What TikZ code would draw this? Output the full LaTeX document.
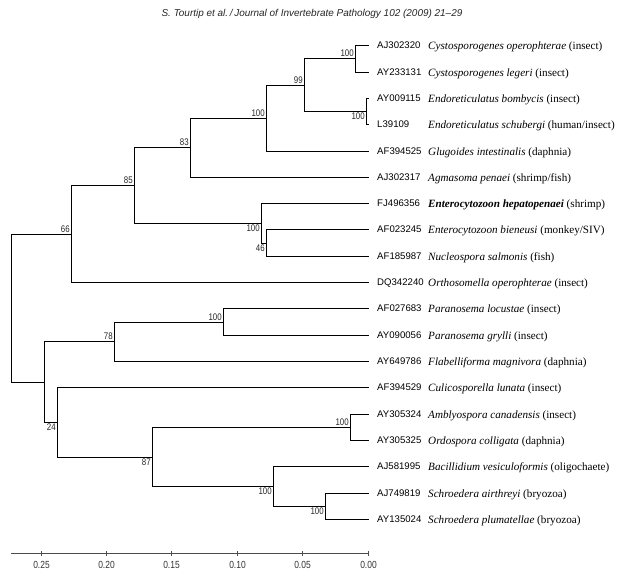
\documentclass[tikz,border=0pt]{standalone}
\usepackage{fontspec}
\usetikzlibrary{positioning}
\setmainfont{Liberation Serif}
\newfontfamily\idfont{Liberation Sans}
\newfontfamily\bsfont[FakeStretch=0.82]{Liberation Sans}

\begin{document}
\begin{tikzpicture}[x=0.03cm, y=-0.03cm]

    \tikzset{idstyle/.style={anchor=base west, inner sep=0pt, yshift=-2.8pt, font=\idfont\fontsize{8.2}{9}\selectfont},
             spstyle/.style={anchor=base west, inner sep=0pt, yshift=-3.0pt, font=\fontsize{9.5}{11}\selectfont},
             bsup/.style={anchor=south east, inner sep=1.3pt, font=\bsfont\fontsize{8.2}{9}\selectfont, text=black!85},
             bsdown/.style={anchor=north east, inner sep=1.3pt, font=\bsfont\fontsize{8.2}{9}\selectfont, text=black!85},
             ticklab/.style={font=\bsfont\fontsize{8.8}{10}\selectfont, text=black!80},
             branch/.style={line width=1.5pt}}

    \useasboundingbox (0,0) rectangle (640,573);

    \node[font=\idfont\itshape\fontsize{8.5}{10}\selectfont, text=black!85] (head) at (312,14)
        {S. Tourtip et al.\,/\,Journal of Invertebrate Pathology 102 (2009) 21\textendash29};

    % tips
    \coordinate (t1) at (369, 45.5);
    \coordinate (t2) at (369, 72.5);
    \coordinate (t3) at (369, 98.5);
    \coordinate (t4) at (369, 124.5);
    \coordinate (t5) at (369, 151.5);
    \coordinate (t6) at (369, 177.5);
    \coordinate (t7) at (369, 203.5);
    \coordinate (t8) at (369, 229.5);
    \coordinate (t9) at (369, 256.5);
    \coordinate (t10) at (369, 282.5);
    \coordinate (t11) at (369, 308.5);
    \coordinate (t12) at (369, 335.5);
    \coordinate (t13) at (369, 361.5);
    \coordinate (t14) at (369, 387.5);
    \coordinate (t15) at (369, 414.5);
    \coordinate (t16) at (369, 440.5);
    \coordinate (t17) at (369, 466.5);
    \coordinate (t18) at (369, 493.5);
    \coordinate (t19) at (369, 519.5);

    % inner nodes
    \coordinate (cyst) at (355.5, 58.5);
    \coordinate (endo) at (366.5, 111.5);
    \coordinate (cysend) at (304.5, 85.5);
    \coordinate (glu) at (266.5, 118.5);
    \coordinate (agm) at (190.5, 147.5);
    \coordinate (nucl) at (266.5, 243.5);
    \coordinate (ent) at (261.5, 223.5);
    \coordinate (mid) at (134.5, 185.5);
    \coordinate (upper) at (71.5, 234.5);
    \coordinate (para) at (223.5, 322.5);
    \coordinate (flab) at (114.5, 341.5);
    \coordinate (amb) at (350.5, 427.5);
    \coordinate (schr) at (325.5, 506.5);
    \coordinate (bac) at (273.5, 486.5);
    \coordinate (ambbac) at (152.5, 457.5);
    \coordinate (culi) at (57.5, 422.5);
    \coordinate (lower) at (44.5, 382.5);
    \coordinate (root) at (11.5, 308.5);

    \begin{scope}[every path/.style={branch}]
        \draw (root) |- (upper);
        \draw (root) |- (lower);

        \draw (upper) |- (mid);
        \draw (upper) |- (t10);
        \draw (mid) |- (agm);
        \draw (mid) |- (ent);
        \draw (agm) |- (glu);
        \draw (agm) |- (t6);
        \draw (glu) |- (cysend);
        \draw (glu) |- (t5);
        \draw (cysend) |- (cyst);
        \draw (cysend) |- (endo);
        \draw (cyst) |- (t1);
        \draw (cyst) |- (t2);
        \draw (endo) |- (t3);
        \draw (endo) |- (t4);
        \draw (ent) |- (t7);
        \draw (ent) |- (nucl);
        \draw (nucl) |- (t8);
        \draw (nucl) |- (t9);

        \draw (lower) |- (flab);
        \draw (lower) |- (culi);
        \draw (flab) |- (para);
        \draw (flab) |- (t13);
        \draw (para) |- (t11);
        \draw (para) |- (t12);
        \draw (culi) |- (t14);
        \draw (culi) |- (ambbac);
        \draw (ambbac) |- (amb);
        \draw (ambbac) |- (bac);
        \draw (amb) |- (t15);
        \draw (amb) |- (t16);
        \draw (bac) |- (t17);
        \draw (bac) |- (schr);
        \draw (schr) |- (t18);
        \draw (schr) |- (t19);
    \end{scope}

    % bootstrap values
    \node[bsup] (bcyst) at (cyst) {100};
    \node[bsdown] (bendo) at (endo) {100};
    \node[bsup] (bcysend) at (cysend) {99};
    \node[bsup] (bglu) at (glu) {100};
    \node[bsup] (bagm) at (agm) {83};
    \node[bsup] (bmid) at (mid) {85};
    \node[bsdown] (bent) at (ent) {100};
    \node[bsdown] (bnucl) at (nucl) {46};
    \node[bsup] (bupper) at (upper) {66};
    \node[bsup] (bpara) at (para) {100};
    \node[bsup] (bflab) at (flab) {78};
    \node[bsdown] (bculi) at (culi) {24};
    \node[bsdown] (bambbac) at (ambbac) {87};
    \node[bsup] (bamb) at (amb) {100};
    \node[bsdown] (bbac) at (bac) {100};
    \node[bsdown] (bschr) at (schr) {100};

    % accession numbers
    \node[idstyle] (id1) at (377, 45.5) {AJ302320};
    \node[idstyle] (id2) at (377, 72.5) {AY233131};
    \node[idstyle] (id3) at (377, 98.5) {AY009115};
    \node[idstyle] (id4) at (377, 124.5) {L39109};
    \node[idstyle] (id5) at (377, 151.5) {AF394525};
    \node[idstyle] (id6) at (377, 177.5) {AJ302317};
    \node[idstyle] (id7) at (377, 203.5) {FJ496356};
    \node[idstyle] (id8) at (377, 229.5) {AF023245};
    \node[idstyle] (id9) at (377, 256.5) {AF185987};
    \node[idstyle] (id10) at (377, 282.5) {DQ342240};
    \node[idstyle] (id11) at (377, 308.5) {AF027683};
    \node[idstyle] (id12) at (377, 335.5) {AY090056};
    \node[idstyle] (id13) at (377, 361.5) {AY649786};
    \node[idstyle] (id14) at (377, 387.5) {AF394529};
    \node[idstyle] (id15) at (377, 414.5) {AY305324};
    \node[idstyle] (id16) at (377, 440.5) {AY305325};
    \node[idstyle] (id17) at (377, 466.5) {AJ581995};
    \node[idstyle] (id18) at (377, 493.5) {AJ749819};
    \node[idstyle] (id19) at (377, 519.5) {AY135024};

    % species
    \node[spstyle] (sp1) at (428, 45.5) {\textit{Cystosporogenes operophterae} (insect)};
    \node[spstyle] (sp2) at (428, 72.5) {\textit{Cystosporogenes legeri} (insect)};
    \node[spstyle] (sp3) at (428, 98.5) {\textit{Endoreticulatus bombycis} (insect)};
    \node[spstyle] (sp4) at (428, 124.5) {\textit{Endoreticulatus schubergi} (human/insect)};
    \node[spstyle] (sp5) at (428, 151.5) {\textit{Glugoides intestinalis} (daphnia)};
    \node[spstyle] (sp6) at (428, 177.5) {\textit{Agmasoma penaei} (shrimp/fish)};
    \node[spstyle] (sp7) at (428, 203.5) {\textbf{\textit{Enterocytozoon hepatopenaei}} (shrimp)};
    \node[spstyle] (sp8) at (428, 229.5) {\textit{Enterocytozoon bieneusi} (monkey/SIV)};
    \node[spstyle] (sp9) at (428, 256.5) {\textit{Nucleospora salmonis} (fish)};
    \node[spstyle] (sp10) at (428, 282.5) {\textit{Orthosomella operophterae} (insect)};
    \node[spstyle] (sp11) at (428, 308.5) {\textit{Paranosema locustae} (insect)};
    \node[spstyle] (sp12) at (428, 335.5) {\textit{Paranosema grylli} (insect)};
    \node[spstyle] (sp13) at (428, 361.5) {\textit{Flabelliforma magnivora} (daphnia)};
    \node[spstyle] (sp14) at (428, 387.5) {\textit{Culicosporella lunata} (insect)};
    \node[spstyle] (sp15) at (428, 414.5) {\textit{Amblyospora canadensis} (insect)};
    \node[spstyle] (sp16) at (428, 440.5) {\textit{Ordospora colligata} (daphnia)};
    \node[spstyle] (sp17) at (428, 466.5) {\textit{Bacillidium vesiculoformis} (oligochaete)};
    \node[spstyle] (sp18) at (428, 493.5) {\textit{Schroedera airthreyi} (bryozoa)};
    \node[spstyle] (sp19) at (428, 519.5) {\textit{Schroedera plumatellae} (bryozoa)};

    % scale
    \coordinate (ax0) at (11, 553.5);
    \coordinate (ax1) at (368.5, 553.5);
    \draw[black!70, line width=0.9pt] (ax0) -- (ax1);

    \coordinate (k25) at (41.5, 553.5);
    \coordinate (k20) at (106.5, 553.5);
    \coordinate (k15) at (171.5, 553.5);
    \coordinate (k10) at (237.5, 553.5);
    \coordinate (k05) at (302.5, 553.5);
    \coordinate (k00) at (368.5, 553.5);

    \begin{scope}[every path/.style={draw=black!70, line width=0.9pt}]
        \draw ([yshift=2.5pt]k25) -- ([yshift=-2.5pt]k25);
        \draw ([yshift=2.5pt]k20) -- ([yshift=-2.5pt]k20);
        \draw ([yshift=2.5pt]k15) -- ([yshift=-2.5pt]k15);
        \draw ([yshift=2.5pt]k10) -- ([yshift=-2.5pt]k10);
        \draw ([yshift=2.5pt]k05) -- ([yshift=-2.5pt]k05);
        \draw ([yshift=2.5pt]k00) -- ([yshift=-2.5pt]k00);
    \end{scope}

    \node[ticklab, below=3.5pt of k25] (l25) {0.25};
    \node[ticklab, below=3.5pt of k20] (l20) {0.20};
    \node[ticklab, below=3.5pt of k15] (l15) {0.15};
    \node[ticklab, below=3.5pt of k10] (l10) {0.10};
    \node[ticklab, below=3.5pt of k05] (l05) {0.05};
    \node[ticklab, below=3.5pt of k00] (l00) {0.00};

\end{tikzpicture}
\end{document}
